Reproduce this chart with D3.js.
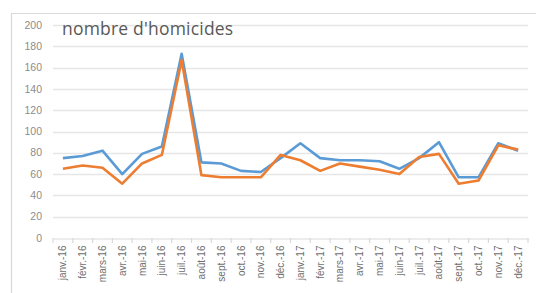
<!DOCTYPE html>
<html><head><meta charset="utf-8">
<script src="https://cdn.jsdelivr.net/npm/d3@7"></script>
<style>body{margin:0;background:#fff}svg{display:block}</style>
</head><body><svg id="c" width="536" height="293"></svg>
<script>
const categories = ["janv.-16","févr.-16","mars-16","avr.-16","mai-16","juin-16","juil.-16","août-16","sept.-16","oct.-16","nov.-16","déc.-16",
"janv.-17","févr.-17","mars-17","avr.-17","mai-17","juin-17","juil.-17","août-17","sept.-17","oct.-17","nov.-17","déc.-17"];
const seriesBlue = [75,77,82,60,79,86,173,71,70,63,62,75,89,75,73,73,72,65,75,90,57,57,89,82];
const seriesOrange = [65,68,66,51,70,78,167,59,57,57,57,78,73,63,70,67,64,60,76,79,51,54,87,83];
const yTicks = [0,20,40,60,80,100,120,140,160,180,200];
const title = "nombre d'homicides";

(function(){
const svg = d3.select("#c");
const pL = 53, pR = 528, pT = 25, pB = 238;
const x = d3.scaleBand().domain(categories).range([pL, pR]);
const y = d3.scaleLinear().domain([0, 200]).range([pB, pT]);

svg.append("path").attr("d", `M11.5,293 V13.5 H536`).attr("fill","none").attr("stroke","#d9d9d9").attr("stroke-width",1.2);

svg.append("g").selectAll("line").data(yTicks.filter(d=>d>0)).join("line")
  .attr("x1", pL).attr("x2", pR).attr("y1", d=>Math.round(y(d))+0.5).attr("y2", d=>Math.round(y(d))+0.5)
  .attr("stroke","#e6e6e6").attr("stroke-width",1.5);

svg.append("g").selectAll("text").data(yTicks).join("text")
  .attr("x", 42).attr("y", d=>y(d)).attr("dy","0.35em").attr("text-anchor","end")
  .attr("font-family","Liberation Sans, Arial, sans-serif").attr("font-size",10.5).attr("fill","#8c8c8c").text(d=>d);

const xAxis = d3.axisBottom(x).tickSize(0).tickFormat(d=>d);
const gx = svg.append("g").attr("transform",`translate(0,${pB+0.5})`).call(xAxis);
gx.select(".domain").attr("stroke","#d9d9d9").attr("stroke-width",1.2);
gx.selectAll(".tick text")
  .attr("font-family","Liberation Sans, Arial, sans-serif").attr("font-size",10).attr("fill","#6e6e6e")
  .attr("transform","rotate(-90)").attr("text-anchor","end").attr("x",-7).attr("y",0).attr("dy","0.35em");
svg.append("g").selectAll("line").data(d3.range(categories.length+1)).join("line")
  .attr("x1", i=>pL + i*x.step()).attr("x2", i=>pL + i*x.step())
  .attr("y1", pB).attr("y2", pB+5).attr("stroke","#d9d9d9").attr("stroke-width",1.2);

const line = d3.line().x((d,i)=>x(categories[i]) + x.bandwidth()/2).y(d=>y(d));
svg.append("path").datum(seriesBlue).attr("d", line).attr("fill","none")
  .attr("stroke","#5B9BD5").attr("stroke-width",2.6).attr("stroke-linejoin","round");
svg.append("path").datum(seriesOrange).attr("d", line).attr("fill","none")
  .attr("stroke","#ED7D31").attr("stroke-width",2.6).attr("stroke-linejoin","round");

svg.append("text").attr("x",62).attr("y",35).attr("font-family","Open Sans, sans-serif")
  .attr("font-size",17.5).attr("letter-spacing",0.2).attr("fill","#595959").text(title);
})();
</script></body></html>
